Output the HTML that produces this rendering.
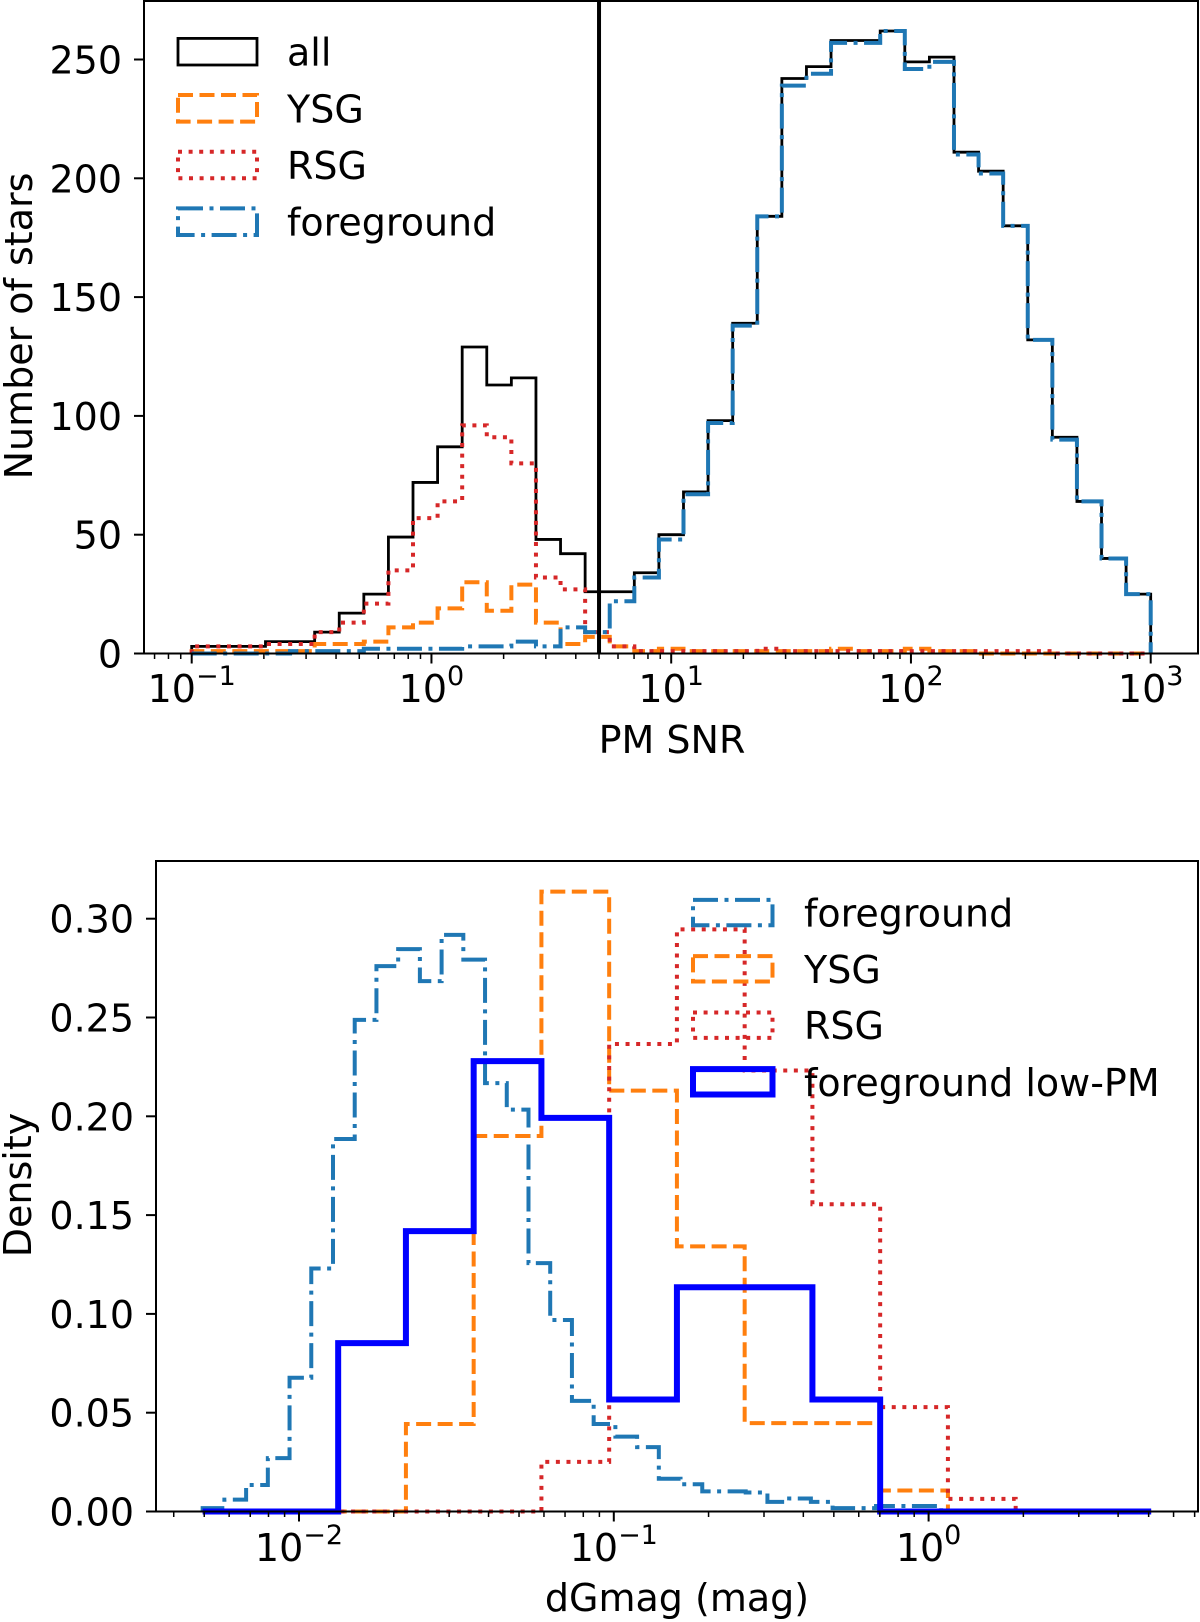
<!DOCTYPE html>
<html><head><meta charset="utf-8">
<style>
html,body{margin:0;padding:0;background:#fff;}
svg{display:block;font-family:"DejaVu Sans","Liberation Sans",sans-serif;}
</style></head>
<body>
<svg id="fig" xmlns="http://www.w3.org/2000/svg" width="1200" height="1622" viewBox="0 0 1200 1622">
<rect x="0" y="0" width="1200" height="1622" fill="#fff"/>
</svg>
<script>
// ---------- Top panel data (39 log bins from 1e-1 to 1e3) ----------
const topLo = -1, topHi = 3, topBins = 39;
const topAll = [3,3,3,5,5,9,17,25,49,72,87,129,113,116,48,42,26,26,34,50,68,98,139,184,242,247,258,258,262,249,251,211,203,180,132,91,64,40,25];
const topYSG = [1,1,1,1,1,4,4,5,11,13,19,30,18,29,13,4,7,3,1,2,1,1,1,1,1,1,2,1,1,2,1,1,0,0,0,0,0,0,0];
const topRSG = [3,3,3,4,4,9,13,21,35,57,64,96,91,80,32,27,9,3,1,1,1,1,1,2,1,1,1,1,1,1,1,1,1,1,1,0,0,0,0];
const topFG  = [0,0,0,0,1,1,1,2,2,2,2,3,3,5,3,11,9,22,32,48,67,97,138,184,239,244,257,257,262,246,249,210,202,180,132,90,64,40,25];
const pmCut = 5;
const topYTicks = [0,50,100,150,200,250];
const topXTicks = [-1,0,1,2,3];

// ---------- Bottom panel data ----------
const fgLogLo = -2.306, fgLogStep = 0.069;
const botFG = [0.0017,0.006,0.0134,0.027,0.0677,0.123,0.1885,0.2488,0.276,0.2846,0.2684,0.2918,0.2793,0.2168,0.2034,0.1257,0.0969,0.056,0.0443,0.0379,0.0326,0.0166,0.0138,0.0102,0.0102,0.0096,0.0049,0.0066,0.0049,0.0017,0.0017,0.0028,0.0028,0.0028];
const coarseLogLo = -2.306, coarseLogHi = 0.707, coarseBins = 14;
const botYSG = [0,0,0,0.0443,0.190,0.3137,0.213,0.1342,0.0447,0.0447,0.0106,0,0,0];
const botRSG = [0,0,0,0,0,0.0251,0.2366,0.2946,0.2232,0.1555,0.0528,0.0064,0,0];
const botLow = [0,0,0.0852,0.1419,0.2279,0.1992,0.0567,0.1135,0.1135,0.0567,0,0,0,0];
const botYTicks = ["0.00","0.05","0.10","0.15","0.20","0.25","0.30"];
const botXTicks = [-2,-1,0];

// ---------- axis functions ----------
const xTop = v => 191.7 + (Math.log10(v) + 1) * 239.75;
const yTop = v => 653.5 - v * 2.376;
const xBot = v => 299 + (Math.log10(v) + 2) * 314.8;
const yBot = v => 1511.5 - v * 1976;

const NS = "http://www.w3.org/2000/svg";
const svg = document.getElementById('fig');
function mk(tag, attrs, parent) {
  const e = document.createElementNS(NS, tag);
  for (const k in attrs) e.setAttribute(k, attrs[k]);
  (parent || svg).appendChild(e);
  return e;
}
function stepPath(edgesLog, vals, xf, yf) {
  let d = `M${xf(10**edgesLog[0])},${yf(0)}`;
  for (let i = 0; i < vals.length; i++) {
    d += ` L${xf(10**edgesLog[i])},${yf(vals[i])} L${xf(10**edgesLog[i+1])},${yf(vals[i])}`;
  }
  d += ` L${xf(10**edgesLog[vals.length])},${yf(0)}`;
  return d;
}
function linEdges(lo, hi, n) { const a=[]; for (let i=0;i<=n;i++) a.push(lo+(hi-lo)*i/n); return a; }
const styles = {
  all:{stroke:'#000','stroke-width':2.8},
  ysg:{stroke:'#ff7f0e','stroke-width':4,'stroke-dasharray':'15 6.5'},
  rsg:{stroke:'#d62728','stroke-width':4,'stroke-dasharray':'4 6.6'},
  fg:{stroke:'#1f77b4','stroke-width':4,'stroke-dasharray':'25 6.5 4 6.5'},
  low:{stroke:'#0000ff','stroke-width':6}
};
function applyStyle(el, s){ for (const k in s) el.setAttribute(k, s[k]); el.setAttribute('fill','none'); }

// ================= TOP PANEL =================
const topG = mk('g', {});


const tEdges = linEdges(topLo, topHi, topBins);
[['all',topAll,'hist-all'],['ysg',topYSG,'hist-ysg'],['rsg',topRSG,'hist-rsg'],['fg',topFG,'hist-foreground']].forEach(([k,arr,name])=>{
  const p = mk('path', {d: stepPath(tEdges, arr, xTop, yTop)}, topG);
  applyStyle(p, styles[k]);
  
  
});
const vl = mk('line', {x1:xTop(pmCut), x2:xTop(pmCut), y1:1, y2:653.5, stroke:'#000','stroke-width':4}, topG);


const tf = mk('rect', {x:144, y:1, width:1054, height:652.5, fill:'none', stroke:'#000', 'stroke-width':2}, topG);


topYTicks.forEach(v=>{
  const y = yTop(v);
  mk('line',{x1:134,x2:144,y1:y,y2:y,stroke:'#000','stroke-width':2},topG);
  const t = mk('text',{x:122,y:y+14,'font-size':38,'text-anchor':'end',fill:'#000'},topG);
  t.textContent = v;
  
  
});
for (let d=-2; d<=3; d++) {
  for (let m=1; m<=9; m++) {
    const v = m * 10**d; const x = xTop(v);
    if (x < 144 || x > 1198) continue;
    mk('line',{x1:x,x2:x,y1:653.5,y2:653.5+(m===1?10:5.5),stroke:'#000','stroke-width':m===1?2:1.5},topG);
  }
}
topXTicks.forEach(e=>{
  const t = mk('text',{x:xTop(10**e),y:702,'font-size':38,'text-anchor':'middle',fill:'#000'},topG);
  
  
  const a = document.createElementNS(NS,'tspan'); a.textContent='10'; t.appendChild(a);
  const b = document.createElementNS(NS,'tspan'); b.setAttribute('dy','-17'); b.setAttribute('font-size','27'); b.textContent = (e<0?'\u2212':'')+Math.abs(e); t.appendChild(b);
});
let tt = mk('text',{x:672,y:753,'font-size':38,'text-anchor':'middle',fill:'#000'},topG);
tt.textContent='PM SNR';


tt = mk('text',{x:0,y:0,'font-size':38,'text-anchor':'middle',fill:'#000',transform:'translate(32,326) rotate(-90)'},topG);
tt.textContent='Number of stars';


const topLegend = [['all','all',51.7],['ysg','YSG',108.3],['rsg','RSG',165],['fg','foreground',221.7]];
topLegend.forEach(([k,label,cy])=>{
  const g = mk('g',{},topG);
  
  
  const r = mk('rect',{x:178,y:cy-13.3,width:79,height:26.6},g); applyStyle(r, styles[k]);
  const t = mk('text',{x:287,y:cy+14,'font-size':38,fill:'#000'},g); t.textContent=label;
});

// ================= BOTTOM PANEL =================
const botG = mk('g', {});


const fgEdges = []; for (let i=0;i<=botFG.length;i++) fgEdges.push(fgLogLo + fgLogStep*i);
const cEdges = linEdges(coarseLogLo, coarseLogHi, coarseBins);
let p = mk('path',{d:stepPath(fgEdges, botFG, xBot, yBot)},botG); applyStyle(p, styles.fg);


p = mk('path',{d:stepPath(cEdges, botYSG, xBot, yBot)},botG); applyStyle(p, styles.ysg);


p = mk('path',{d:stepPath(cEdges, botRSG, xBot, yBot)},botG); applyStyle(p, styles.rsg);


p = mk('path',{d:stepPath(cEdges, botLow, xBot, yBot)},botG); applyStyle(p, styles.low);


const bf = mk('rect',{x:156,y:861,width:1042,height:650.5,fill:'none',stroke:'#000','stroke-width':2},botG);


botYTicks.forEach(s=>{
  const y = yBot(parseFloat(s));
  mk('line',{x1:146,x2:156,y1:y,y2:y,stroke:'#000','stroke-width':2},botG);
  const t = mk('text',{x:134,y:y+14,'font-size':38,'text-anchor':'end',fill:'#000'},botG);
  t.textContent = s;
  
  
});
for (let d=-3; d<=0; d++) {
  for (let m=1; m<=9; m++) {
    const v = m * 10**d; const x = xBot(v);
    if (x < 156 || x > 1198) continue;
    mk('line',{x1:x,x2:x,y1:1511.5,y2:1511.5+(m===1?10:5.5),stroke:'#000','stroke-width':m===1?2:1.5},botG);
  }
}
botXTicks.forEach(e=>{
  const t = mk('text',{x:xBot(10**e),y:1561,'font-size':38,'text-anchor':'middle',fill:'#000'},botG);
  
  
  const a = document.createElementNS(NS,'tspan'); a.textContent='10'; t.appendChild(a);
  const b = document.createElementNS(NS,'tspan'); b.setAttribute('dy','-17'); b.setAttribute('font-size','27'); b.textContent = (e<0?'\u2212':'')+Math.abs(e); t.appendChild(b);
});
tt = mk('text',{x:677,y:1611,'font-size':38,'text-anchor':'middle',fill:'#000'},botG);
tt.textContent='dGmag (mag)';


tt = mk('text',{x:0,y:0,'font-size':38,'text-anchor':'middle',fill:'#000',transform:'translate(31,1185) rotate(-90)'},botG);
tt.textContent='Density';


const botLegend = [['fg','foreground',912.6],['ysg','YSG',968.8],['rsg','RSG',1025.2],['low','foreground low-PM',1081.8]];
botLegend.forEach(([k,label,cy])=>{
  const g = mk('g',{},botG);
  
  
  const r = mk('rect',{x:693,y:cy-12.7,width:79.5,height:25.4},g); applyStyle(r, styles[k]);
  const t = mk('text',{x:804,y:cy+14,'font-size':38,fill:'#000'},g); t.textContent=label;
});
</script>
</body></html>
